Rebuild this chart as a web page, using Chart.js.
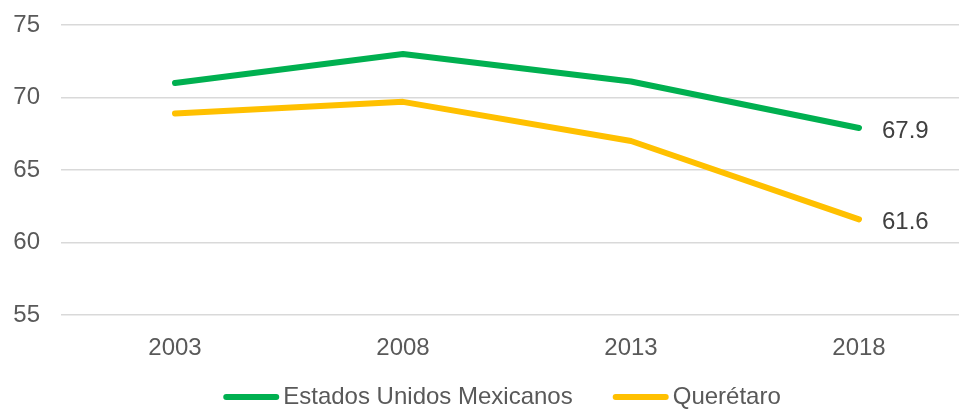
<!DOCTYPE html>
<html>
<head>
<meta charset="utf-8">
<script src="https://cdn.jsdelivr.net/npm/chart.js@4.4.1/dist/chart.umd.min.js"></script>
<style>
  html, body { margin: 0; padding: 0; background: #ffffff; overflow: hidden; }
  #wrap { position: relative; width: 975px; height: 409px; }
</style>
</head>
<body>
<div id="wrap"><canvas id="c" width="975" height="409"></canvas></div>
<script>
const categories = ['2003', '2008', '2013', '2018'];
const seriesNames = ['Estados Unidos Mexicanos', 'Querétaro'];
const mexicoValues = [71.0, 73.0, 71.1, 67.9];
const queretaroValues = [68.9, 69.7, 67.0, 61.6];
const yTicks = [55, 60, 65, 70, 75];

const FONT = '"Liberation Sans", Arial, sans-serif';
const TEXT = '#595959';
const FS = 24;

const endLabels = {
  id: 'endLabels',
  afterDatasetsDraw(chart) {
    const ctx = chart.ctx;
    ctx.save();
    ctx.font = FS + 'px ' + FONT;
    ctx.fillStyle = '#404040';
    ctx.textAlign = 'left';
    ctx.textBaseline = 'middle';
    chart.data.datasets.forEach((ds, i) => {
      const meta = chart.getDatasetMeta(i);
      const last = meta.data[meta.data.length - 1];
      const v = ds.data[ds.data.length - 1];
      ctx.fillText(v.toFixed(1), last.x + 23, last.y + 3);
    });
    ctx.restore();
  }
};

const customLegend = {
  id: 'customLegend',
  afterDraw(chart) {
    const ctx = chart.ctx;
    ctx.save();
    ctx.font = FS + 'px ' + FONT;
    ctx.textBaseline = 'middle';
    ctx.textAlign = 'left';
    const y = 397;
    const lineLen = 56, gapText = 4, gapItem = 40;
    const widths = chart.data.datasets.map(d => lineLen + gapText + ctx.measureText(d.label).width);
    const total = widths.reduce((a, b) => a + b, 0) + gapItem * (widths.length - 1);
    let x = 502 - total / 2;
    chart.data.datasets.forEach((d, i) => {
      ctx.strokeStyle = d.borderColor;
      ctx.lineWidth = 6;
      ctx.lineCap = 'round';
      ctx.beginPath();
      ctx.moveTo(x + 3, y);
      ctx.lineTo(x + lineLen - 3, y);
      ctx.stroke();
      ctx.fillStyle = TEXT;
      ctx.fillText(d.label, x + lineLen + gapText, y);
      x += widths[i] + gapItem;
    });
    ctx.restore();
  }
};

new Chart(document.getElementById('c'), {
  type: 'line',
  data: {
    labels: categories,
    datasets: [
      {
        label: seriesNames[0],
        data: mexicoValues,
        borderColor: '#00B050',
        backgroundColor: '#00B050',
        borderWidth: 6,
        borderCapStyle: 'round',
        borderJoinStyle: 'round',
        pointRadius: 0,
        tension: 0
      },
      {
        label: seriesNames[1],
        data: queretaroValues,
        borderColor: '#FFC000',
        backgroundColor: '#FFC000',
        borderWidth: 6,
        borderCapStyle: 'round',
        borderJoinStyle: 'round',
        pointRadius: 0,
        tension: 0
      }
    ]
  },
  options: {
    responsive: false,
    animation: false,
    layout: { padding: { top: 25, right: 2, bottom: 50, left: 0 } },
    plugins: {
      legend: { display: false },
      tooltip: { enabled: false }
    },
    scales: {
      x: {
        offset: true,
        grid: { display: false, drawTicks: false },
        border: { display: false },
        ticks: { color: TEXT, font: { family: FONT, size: FS }, padding: 19, maxRotation: 0 },
        afterFit(scale) { scale.height = 44; scale.paddingLeft = 0; scale.paddingRight = 0; }
      },
      y: {
        min: 55,
        max: 75,
        afterBuildTicks(scale) { scale.ticks = yTicks.map(v => ({ value: v })); },
        grid: { color: '#D9D9D9', lineWidth: 1.5, drawTicks: false },
        border: { display: false },
        ticks: { color: TEXT, font: { family: FONT, size: FS }, padding: 21 },
        afterFit(scale) { scale.width = 61; scale.paddingTop = 0; scale.paddingBottom = 0; }
      }
    }
  },
  plugins: [endLabels, customLegend]
});
</script>
</body>
</html>
